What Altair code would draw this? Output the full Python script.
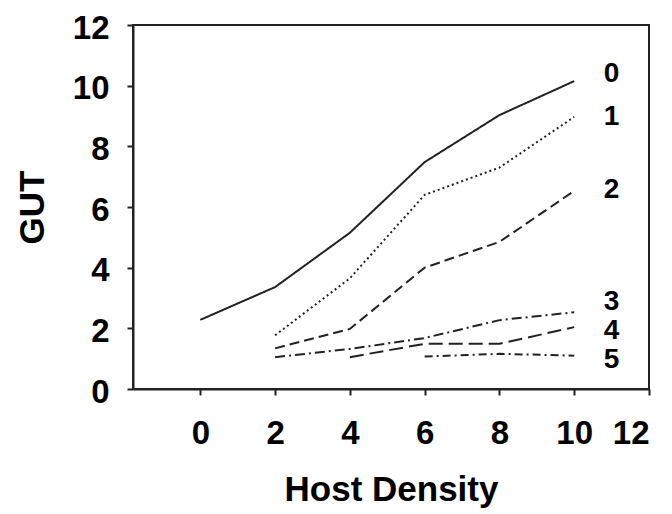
import altair as alt
import pandas as pd

density = [0, 2, 4, 6, 8, 10]
series_names = ["0", "1", "2", "3", "4", "5"]
gut_0 = [2.28, 3.36, 5.15, 7.48, 9.03, 10.15]
gut_1 = [None, 1.77, 3.65, 6.40, 7.30, 8.97]
gut_2 = [None, 1.34, 1.98, 4.00, 4.85, 6.53]
gut_3 = [None, 1.05, 1.32, 1.68, 2.27, 2.53]
gut_4 = [None, None, 1.05, 1.49, 1.49, 2.04]
gut_5 = [None, None, None, 1.07, 1.16, 1.10]
label_x = [11, 11, 11, 11, 11, 11]
label_y = [10.4, 8.97, 6.55, 2.86, 1.9, 0.95]

rows = []
for name, vals in zip(series_names, [gut_0, gut_1, gut_2, gut_3, gut_4, gut_5]):
    for xv, yv in zip(density, vals):
        if yv is not None:
            rows.append({"density": xv, "gut": yv, "series": name})
df = pd.DataFrame(rows)
labels = pd.DataFrame({"x": label_x, "y": label_y, "t": series_names})

FONT = "Liberation Sans"
xs = alt.Scale(domain=[-1.8, 12], nice=False, zero=False)
ys = alt.Scale(domain=[0, 12], nice=False)

lines = alt.Chart(df).mark_line(color="#222222", strokeWidth=2).encode(
    x=alt.X("density:Q", scale=xs,
            axis=alt.Axis(values=[0, 2, 4, 6, 8, 10, 12], title="Host Density", grid=False,
                          tickSize=6, labelPadding=22, titlePadding=22)),
    y=alt.Y("gut:Q", scale=ys,
            axis=alt.Axis(values=[0, 2, 4, 6, 8, 10, 12], title="GUT", grid=False,
                          tickSize=6, labelPadding=18, titlePadding=22, labelOffset=3)),
    strokeDash=alt.StrokeDash("series:N", legend=None,
                              scale=alt.Scale(domain=series_names,
                                              range=[[1, 0], [2, 3], [10, 5], [10, 4, 2, 4], [14, 6], [8, 4, 2, 4]])),
    detail="series:N",
)

text = alt.Chart(labels).mark_text(font=FONT, fontWeight="bold", fontSize=28, color="black",
                                   align="center", baseline="middle").encode(
    x=alt.X("x:Q", scale=xs),
    y=alt.Y("y:Q", scale=ys),
    text="t:N",
)

chart = (lines + text).properties(
    width=516, height=364,
    autosize=alt.AutoSizeParams(type="none"),
    padding={"left": 125, "top": 17, "right": 15, "bottom": 124},
).configure_view(stroke="#222222", strokeWidth=2).configure_axis(
    labelFont=FONT, titleFont=FONT, labelFontSize=33, titleFontSize=35,
    labelFontWeight="bold", titleFontWeight="bold", labelColor="black", titleColor="black",
    domainColor="#222222", domainWidth=2, tickColor="#222222", tickWidth=2,
).configure_axisX(labelBaseline="top").configure_axisY(labelBaseline="middle")

chart.save("out.html", embed_options={"renderer": "svg", "actions": False})
